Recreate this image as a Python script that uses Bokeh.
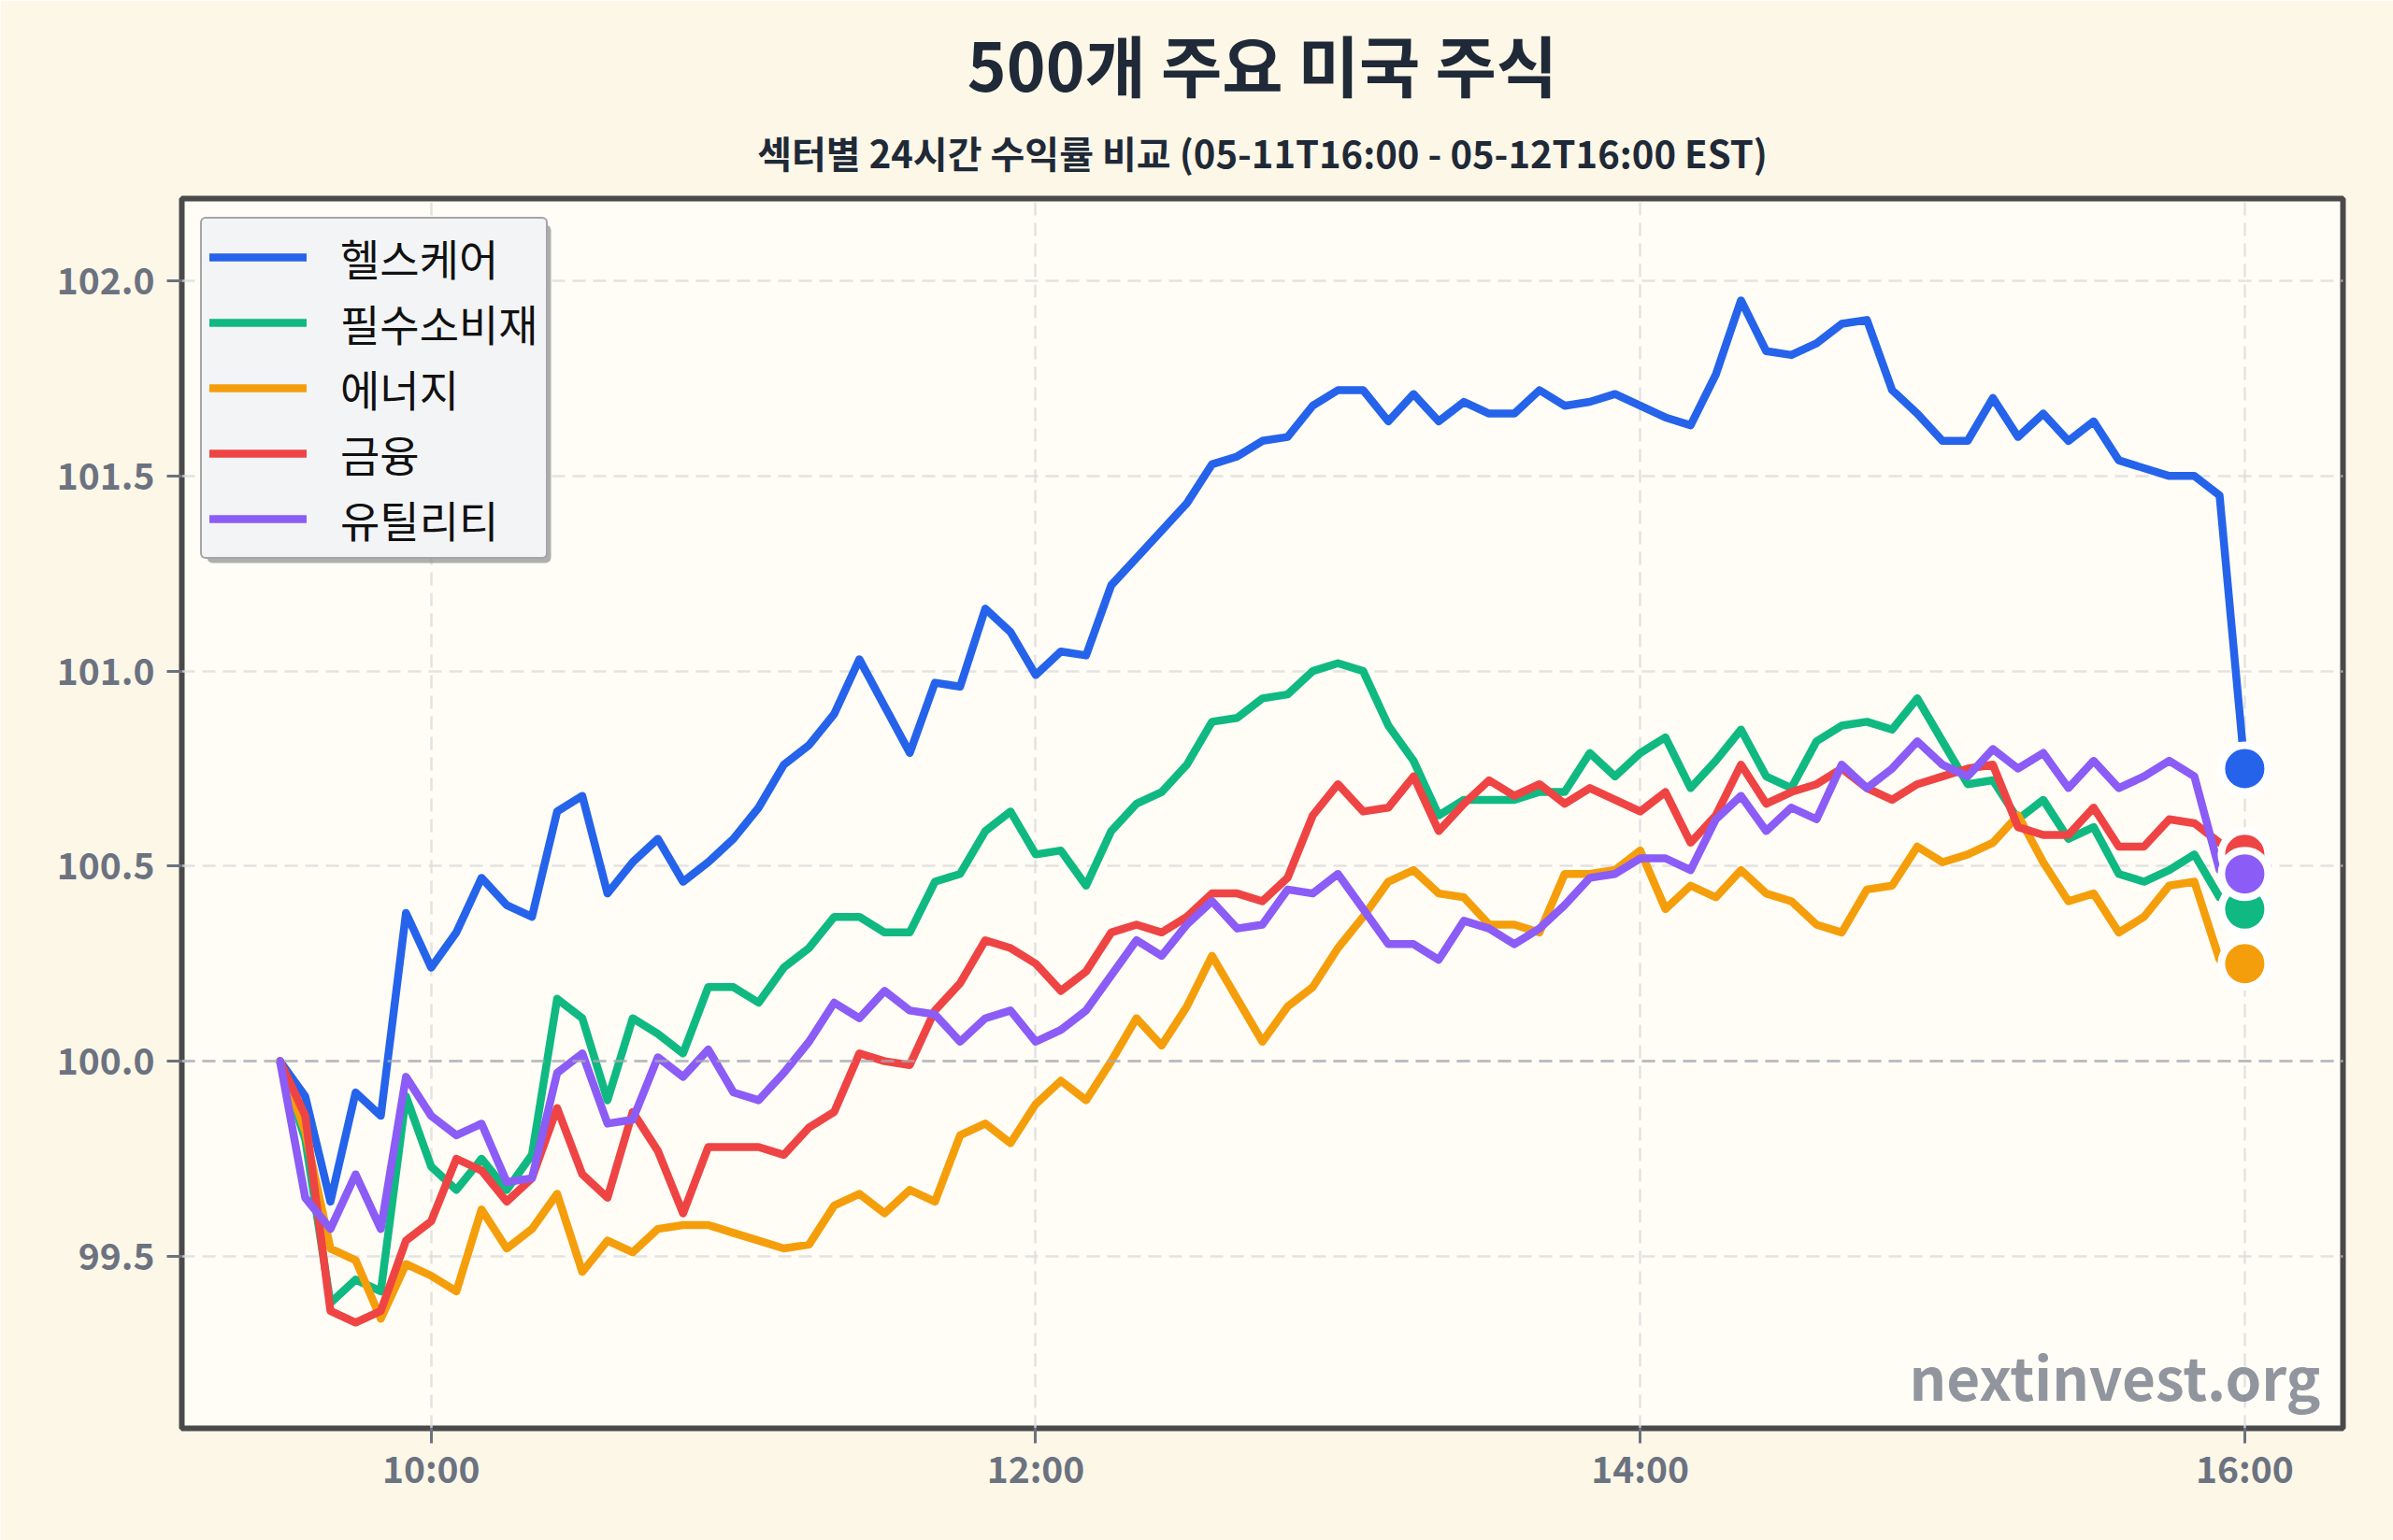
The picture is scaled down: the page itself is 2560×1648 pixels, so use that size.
from bokeh.plotting import figure
from bokeh.models import Range1d, FixedTicker, Legend, LegendItem, Label, Span, BoxAnnotation, Title
from bokeh.embed import file_html
from bokeh.resources import INLINE

# ---- data -------------------------------------------------------------
n_points = 79
times = [9.5 + k * 5 / 60 for k in range(n_points)]  # 09:30 ... 16:00, 5-minute steps

sector_names = ["헬스케어", "필수소비재", "에너지", "금융", "유틸리티"]
sector_colors = ["#2563eb", "#10b981", "#f59e0b", "#ef4444", "#8b5cf6"]

healthcare = [100.00, 99.91, 99.64, 99.92, 99.86, 100.38, 100.24, 100.33, 100.47, 100.40,
              100.37, 100.64, 100.68, 100.43, 100.51, 100.57, 100.46, 100.51, 100.57, 100.65,
              100.76, 100.81, 100.89, 101.03, 100.91, 100.79, 100.97, 100.96, 101.16, 101.10,
              100.99, 101.05, 101.04, 101.22, 101.29, 101.36, 101.43, 101.53, 101.55, 101.59,
              101.60, 101.68, 101.72, 101.72, 101.64, 101.71, 101.64, 101.69, 101.66, 101.66,
              101.72, 101.68, 101.69, 101.71, 101.68, 101.65, 101.63, 101.76, 101.95, 101.82,
              101.81, 101.84, 101.89, 101.90, 101.72, 101.66, 101.59, 101.59, 101.70, 101.60,
              101.66, 101.59, 101.64, 101.54, 101.52, 101.50, 101.50, 101.45, 100.75]

staples = [100.00, 99.80, 99.38, 99.44, 99.41, 99.91, 99.73, 99.67, 99.75, 99.67,
           99.76, 100.16, 100.11, 99.90, 100.11, 100.07, 100.02, 100.19, 100.19, 100.15,
           100.24, 100.29, 100.37, 100.37, 100.33, 100.33, 100.46, 100.48, 100.59, 100.64,
           100.53, 100.54, 100.45, 100.59, 100.66, 100.69, 100.76, 100.87, 100.88, 100.93,
           100.94, 101.00, 101.02, 101.00, 100.86, 100.77, 100.63, 100.67, 100.67, 100.67,
           100.69, 100.69, 100.79, 100.73, 100.79, 100.83, 100.70, 100.77, 100.85, 100.73,
           100.70, 100.82, 100.86, 100.87, 100.85, 100.93, 100.82, 100.71, 100.72, 100.62,
           100.67, 100.57, 100.60, 100.48, 100.46, 100.49, 100.53, 100.42, 100.39]

energy = [100.00, 99.82, 99.52, 99.49, 99.34, 99.48, 99.45, 99.41, 99.62, 99.52,
          99.57, 99.66, 99.46, 99.54, 99.51, 99.57, 99.58, 99.58, 99.56, 99.54,
          99.52, 99.53, 99.63, 99.66, 99.61, 99.67, 99.64, 99.81, 99.84, 99.79,
          99.89, 99.95, 99.90, 100.00, 100.11, 100.04, 100.14, 100.27, 100.16, 100.05,
          100.14, 100.19, 100.29, 100.37, 100.46, 100.49, 100.43, 100.42, 100.35, 100.35,
          100.33, 100.48, 100.48, 100.49, 100.54, 100.39, 100.45, 100.42, 100.49, 100.43,
          100.41, 100.35, 100.33, 100.44, 100.45, 100.55, 100.51, 100.53, 100.56, 100.63,
          100.51, 100.41, 100.43, 100.33, 100.37, 100.45, 100.46, 100.26, 100.25]

financials = [100.00, 99.86, 99.36, 99.33, 99.36, 99.54, 99.59, 99.75, 99.72, 99.64,
              99.70, 99.88, 99.71, 99.65, 99.87, 99.77, 99.61, 99.78, 99.78, 99.78,
              99.76, 99.83, 99.87, 100.02, 100.00, 99.99, 100.13, 100.20, 100.31, 100.29,
              100.25, 100.18, 100.23, 100.33, 100.35, 100.33, 100.37, 100.43, 100.43, 100.41,
              100.47, 100.63, 100.71, 100.64, 100.65, 100.73, 100.59, 100.66, 100.72, 100.68,
              100.71, 100.66, 100.70, 100.67, 100.64, 100.69, 100.56, 100.63, 100.76, 100.66,
              100.69, 100.71, 100.75, 100.70, 100.67, 100.71, 100.73, 100.75, 100.76, 100.60,
              100.58, 100.58, 100.65, 100.55, 100.55, 100.62, 100.61, 100.56, 100.53]

utilities = [100.00, 99.65, 99.57, 99.71, 99.57, 99.96, 99.86, 99.81, 99.84, 99.69,
             99.70, 99.97, 100.02, 99.84, 99.85, 100.01, 99.96, 100.03, 99.92, 99.90,
             99.97, 100.05, 100.15, 100.11, 100.18, 100.13, 100.12, 100.05, 100.11, 100.13,
             100.05, 100.08, 100.13, 100.22, 100.31, 100.27, 100.35, 100.41, 100.34, 100.35,
             100.44, 100.43, 100.48, 100.39, 100.30, 100.30, 100.26, 100.36, 100.34, 100.30,
             100.34, 100.40, 100.47, 100.48, 100.52, 100.52, 100.49, 100.62, 100.68, 100.59,
             100.65, 100.62, 100.76, 100.70, 100.75, 100.82, 100.76, 100.73, 100.80, 100.75,
             100.79, 100.70, 100.77, 100.70, 100.73, 100.77, 100.73, 100.49, 100.48]

series = [healthcare, staples, energy, financials, utilities]

x_ticks = [10, 12, 14, 16]
x_tick_labels = ["10:00", "12:00", "14:00", "16:00"]
y_ticks = [99.5, 100.0, 100.5, 101.0, 101.5, 102.0]
y_tick_labels = ["99.5", "100.0", "100.5", "101.0", "101.5", "102.0"]

title_text = "500개 주요 미국 주식"
subtitle_text = "섹터별 24시간 수익률 비교 (05-11T16:00 - 05-12T16:00 EST)"
watermark_text = "nextinvest.org"

# ---- layout -----------------------------------------------------------
W, H = 2560, 1648
ML, MR, MT, MB = 194, 54, 212, 120
X0, X1 = 9.175, 16.325
Y0, Y1 = 99.059, 102.211
FONT = "Noto Sans CJK KR"

p = figure(width=W, height=H, output_backend="svg", toolbar_location=None,
           x_range=Range1d(X0, X1), y_range=Range1d(Y0, Y1),
           min_border_left=ML, min_border_right=MR, min_border_top=MT, min_border_bottom=MB)
p.title = None
p.background_fill_color = "#fffdf6"
p.border_fill_color = "#fdf7e7"
p.outline_line_color = "#4a4a4a"
p.outline_line_width = 6

fw = W - ML - MR
fh = H - MT - MB
xpp = (X1 - X0) / fw
ypp = (Y1 - Y0) / fh

# grid
for g in (p.xgrid[0], p.ygrid[0]):
    g.grid_line_color = "#dcdcdc"
    g.grid_line_width = 2.5
    g.grid_line_dash = "14 8"
    g.grid_line_alpha = 0.8
p.xgrid[0].ticker = FixedTicker(ticks=x_ticks)
p.ygrid[0].ticker = FixedTicker(ticks=y_ticks)

p.add_layout(Span(location=100.0, dimension="width", line_color="#a8acb3",
                  line_dash="14 8", line_width=3, line_alpha=0.7))

# axes
p.xaxis.ticker = FixedTicker(ticks=x_ticks)
p.xaxis.major_label_overrides = {t: l for t, l in zip(x_ticks, x_tick_labels)}
p.yaxis.ticker = FixedTicker(ticks=y_ticks)
p.yaxis.major_label_overrides = {t: l for t, l in zip(y_ticks, y_tick_labels)}
for ax in (p.xaxis[0], p.yaxis[0]):
    ax.axis_line_color = None
    ax.major_tick_line_color = "#6b7280"
    ax.major_tick_line_width = 3
    ax.major_tick_out = 16
    ax.major_tick_in = 0
    ax.minor_tick_line_color = None
    ax.major_label_text_font = FONT
    ax.major_label_text_font_style = "bold"
    ax.major_label_text_font_size = "39px"
    ax.major_label_text_color = "#6b7280"
p.xaxis[0].major_label_standoff = -3
p.yaxis[0].major_label_standoff = 13

# lines
renderers = []
for name, col, ys in zip(sector_names, sector_colors, series):
    r = p.line(times, ys, line_color=col, line_width=8.5, line_join="round", line_cap="round")
    renderers.append(r)

# end dots
for col, ys in zip(sector_colors, series):
    p.scatter([times[-1]], [ys[-1]], size=50, fill_color=col, line_color="white", line_width=8)

# watermark
p.add_layout(Label(x=X1 - 24 * xpp, y=Y0 + 57 * ypp, text=watermark_text,
                   text_font=FONT, text_font_style="bold", text_font_size="62px",
                   text_color="#6b7280", text_alpha=0.75,
                   text_align="right", text_baseline="alphabetic"))

# legend shadow
lg_left, lg_top, lg_w, lg_h = 22, 23, 368, 362
sh = 5
p.add_layout(BoxAnnotation(left=X0 + (lg_left + sh) * xpp, right=X0 + (lg_left + sh + lg_w) * xpp,
                           top=Y1 - (lg_top + sh) * ypp, bottom=Y1 - (lg_top + sh + lg_h) * ypp,
                           fill_color="#8c8c8c", fill_alpha=0.7, line_color=None,
                           border_radius=6, level="overlay"))

legend = Legend(items=[LegendItem(label=n, renderers=[r]) for n, r in zip(sector_names, renderers)],
                location="top_left", margin=20, padding=8, spacing=4,
                label_height=56, glyph_height=56, glyph_width=104, label_standoff=36,
                label_text_font=FONT, label_text_font_size="46px", label_text_color="#111111",
                border_line_color="#555555", border_line_width=2, border_radius=6,
                background_fill_color="#f3f4f6", background_fill_alpha=1.0)
p.add_layout(legend)

# titles (first added sits closest to the plot)
p.add_layout(Title(text=subtitle_text, align="center", text_font=FONT, text_font_style="bold",
                   text_font_size="40px", text_color="#1f2937", standoff=42), "above")
p.add_layout(Title(text=title_text, align="center", text_font=FONT, text_font_style="bold",
                   text_font_size="71px", text_color="#1f2937", standoff=-15), "above")

open("out.html", "w").write(file_html(p, INLINE))
